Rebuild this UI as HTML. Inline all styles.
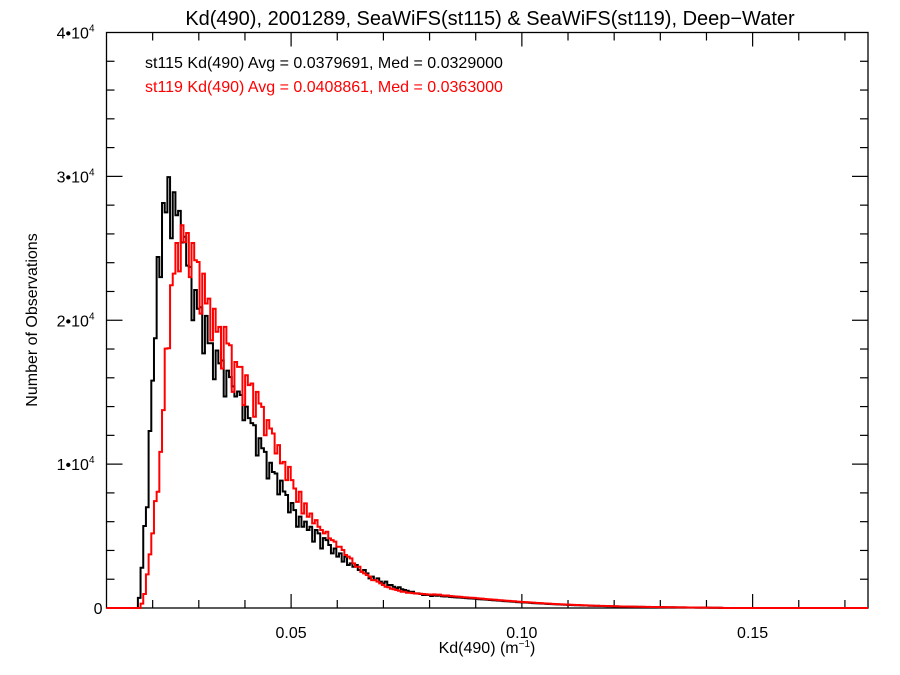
<!DOCTYPE html>
<html><head><meta charset="utf-8">
<style>
body{margin:0;background:#fff;}
svg{display:block;font-family:"Liberation Sans",Arial,sans-serif;}
</style></head>
<body>
<svg id="chart" width="900" height="675" viewBox="0 0 900 675">
<text x="490" y="25" text-anchor="middle" font-size="20">Kd(490), 2001289, SeaWiFS(st115) &amp; SeaWiFS(st119), Deep−Water</text>
<text x="145" y="68" font-size="16" fill="#000">st115 Kd(490) Avg = 0.0379691, Med = 0.0329000</text>
<text x="145" y="92" font-size="16" fill="#ff0000">st119 Kd(490) Avg = 0.0408861, Med = 0.0363000</text>
<text transform="translate(37,320) rotate(-90)" text-anchor="middle" font-size="16">Number of Observations</text>
<text x="487" y="653" text-anchor="middle" font-size="16">Kd(490) (m<tspan font-size="10" dy="-6">−1</tspan><tspan dy="6">)</tspan></text>
<g id="axes"></g>
<g id="series"></g>
</svg>
<script>
const xTicks = [0.05, 0.10, 0.15];
const xTickLabels = ["0.05", "0.10", "0.15"];
const yTicks = [0, 10000, 20000, 30000, 40000];
const yTickLabels = ["0", "1•10", "2•10", "3•10", "4•10"];
const binStart = 0.0168;
const binWidth = 0.000581;
const st115Counts = [700,2800,5700,7000,12300,15800,18750,24400,23000,28150,27500,29950,25700,28900,27300,27600,25400,25800,23800,23700,20000,22100,20800,20900,17700,20300,18400,18400,15900,17900,17000,17200,14700,16500,16050,15400,14700,15050,14800,13050,14000,13200,12850,12700,10600,11800,11100,10850,9000,10100,9450,9350,7900,8850,8100,7850,6650,7300,6800,5650,6350,
5650,6000,5420,5650,4610,5420,5190,4140,4860,4720,4380,3800,4140,3570,3800,3220,3570,2990,3100,2870,2990,2640,2520,2640,2410,2060,2180,1940,2060,1830,1710,1830,1600,1600,1480,1370,1440,1300,1250,1200,1130,1130,1020,1020,970,900,900,900,830,
880,850,870,820,800,810,770,760,740,730,720,700,690,670,660,650,630,610,600,590,570,560,540,530,510,500,480,470,460,440,430,410,400,390,380,370,360,340,330,320,310,300,290,280,270,260,250,245,235,225,220,210,200,195,190,180,175,170,160,155,150,145,140,135,130,125,120,115,110,105,100,98,95,90,88,85,80,78,75,72,70,67,65,62,60,57,55,52,50,48,46,44,42,40,38,36,34,32,30,28,26,24,22,20,18,16,14,12];
const st119Counts = [0,300,970,2340,3730,5190,7430,8080,10850,13750,18030,18050,22430,23240,25370,23400,26600,25430,26060,23000,25370,24170,24050,20460,23240,21160,21500,18600,20800,19200,19540,16650,19540,18380,18260,15020,17100,16760,16760,14100,16180,15490,15600,13290,15020,14210,13980,12010,13060,12480,12130,10740,11320,10050,10160,8890,9810,8890,8310,7380,8080,
6570,7270,6340,6570,5880,6110,5650,5420,5190,5300,4840,4720,4610,4260,4260,4030,3680,3570,3450,3100,2870,2870,2520,2410,2290,2180,1940,1940,1830,1710,1600,1480,1440,1340,1300,1250,1200,1130,1130,1060,
1060,1030,1020,1000,990,970,960,940,930,
950,920,930,880,860,870,830,820,800,790,770,750,740,720,710,700,680,660,650,630,610,600,580,570,550,540,520,505,495,475,465,445,430,420,410,400,385,370,360,345,335,325,315,300,290,280,270,262,252,242,236,225,215,210,204,194,188,182,172,166,160,155,150,145,140,135,130,124,118,113,108,105,102,97,94,91,86,83,80,77,75,72,70,66,64,61,59,56,54,51,49,47,45,43,41,39,36,34,32,30,28,26,24,22,19,17,15,13];

const L=106.5, R=868, T=32.5, B=608;
const xMin=0.01, xMax=0.175, yMin=0, yMax=40000;
const sx = v => L + (v - xMin) / (xMax - xMin) * (R - L);
const sy = v => B - (v - yMin) / (yMax - yMin) * (B - T);
const NS='http://www.w3.org/2000/svg';
function mk(tag, attrs, parent){const e=document.createElementNS(NS,tag);for(const k in attrs)e.setAttribute(k,attrs[k]);parent.appendChild(e);return e;}
const axes=document.getElementById('axes');
const frame=mk('rect',{x:L,y:T,width:R-L,height:B-T,fill:'none',stroke:'#000','stroke-width':1.3},axes);


for(let v=0.02; v<xMax-1e-9; v+=0.01){
  const major = Math.abs(v/0.05-Math.round(v/0.05))<1e-6;
  const len = major?14:8;
  const x=sx(v);
  const t1=mk('line',{x1:x,x2:x,y1:B,y2:B-len,stroke:'#000','stroke-width':1.2},axes);
  
  
  const t2=mk('line',{x1:x,x2:x,y1:T,y2:T+len,stroke:'#000','stroke-width':1.2},axes);
  
  
}
xTicks.forEach((v,i)=>{
  const t=mk('text',{x:sx(v),y:B+30,'text-anchor':'middle','font-size':16},axes);
  t.textContent=xTickLabels[i];
  
  
});
for(let v=2000; v<yMax; v+=2000){
  const major = v%10000===0;
  const len = major?16:8;
  const y=sy(v);
  const t1=mk('line',{x1:L,x2:L+len,y1:y,y2:y,stroke:'#000','stroke-width':1.2},axes);
  
  
  const t2=mk('line',{x1:R,x2:R-len,y1:y,y2:y,stroke:'#000','stroke-width':1.2},axes);
  
  
}
yTicks.forEach((v,i)=>{
  const t=mk('text',{x:v===0?L-4:L-12,y:sy(v)+6,'text-anchor':'end','font-size':16},axes);
  t.textContent=yTickLabels[i];
  if(v!==0){
    const s=mk('tspan',{'font-size':10,dy:-7},t);s.textContent='4';
  }
  
  
});
const ser=document.getElementById('series');
function stepPath(counts){
  let d='M'+L+','+sy(0)+' L'+sx(binStart)+','+sy(0);
  counts.forEach((c,i)=>{
    const x0=sx(binStart+i*binWidth), x1=sx(binStart+(i+1)*binWidth);
    d+=' L'+x0.toFixed(2)+','+sy(c).toFixed(2)+' L'+x1.toFixed(2)+','+sy(c).toFixed(2);
  });
  const xe=sx(binStart+counts.length*binWidth);
  d+=' L'+xe.toFixed(2)+','+sy(0)+' L'+R+','+sy(0);
  return d;
}
const p1=mk('path',{d:stepPath(st115Counts),fill:'none',stroke:'#000','stroke-width':2},ser);


const p2=mk('path',{d:stepPath(st119Counts),fill:'none',stroke:'#ff0000','stroke-width':2},ser);


</script>
</body></html>
